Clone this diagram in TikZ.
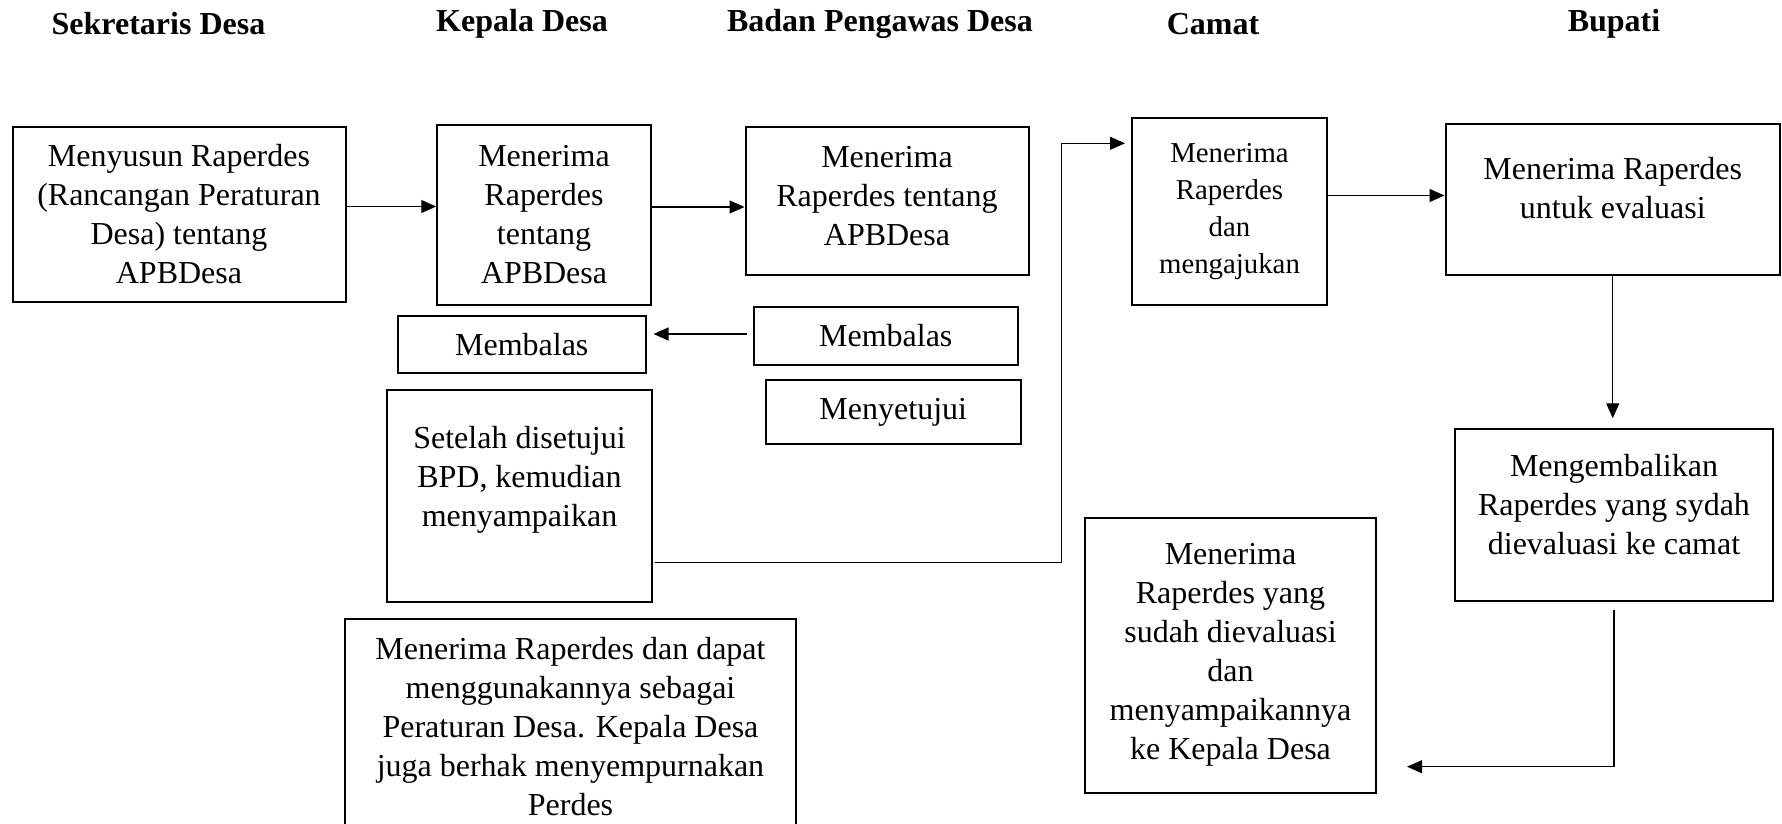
\documentclass[tikz,border=0pt]{standalone}
\usepackage{fontspec}
\setmainfont{Liberation Serif}
\usetikzlibrary{arrows.meta}
\tikzset{
  box/.style={draw, line width=1pt, align=center, inner sep=2pt, font=\fontsize{16}{19.5}\selectfont},
  judul/.style={font=\fontsize{16}{19.5}\selectfont\bfseries},
  arr/.style={-{Triangle[length=7.5pt,width=6.5pt]}, line width=0.6pt},
}
\begin{document}
\begin{tikzpicture}[x=0.5pt,y=-0.5pt]
\useasboundingbox (0,0) rectangle (1782,824);
\clip (0,0) rectangle (1782,824);
% judul kolom
\node[judul] (hSekdes) at (158.5,24) {Sekretaris Desa};
\node[judul] (hKades) at (522,24) {Kepala Desa};
\node[judul] (hBpd) at (880,24) {Badan Pengawas Desa};
\node[judul] (hCamat) at (1213,24) {Camat};
\node[judul] (hBupati) at (1614,24) {Bupati};
% kotak
\node[box, minimum width=166.5pt, minimum height=87.5pt] (sekdes) at (179,214.5) {Menyusun Raperdes\\
                                        (Rancangan Peraturan\\
                                        Desa) tentang\\
                                        APBDesa};
\node[box, minimum width=106.75pt, minimum height=90pt] (kadesTerima) at (544,215) {Menerima\\
                                        Raperdes\\
                                        tentang\\
                                        APBDesa};
\node[box, minimum width=141.5pt, minimum height=74pt] (bpdTerima) at (887,201) {Menerima\\
                                        Raperdes tentang\\
                                        APBDesa\\[-14pt]
                                        \mbox{}};
\node[box, font=\fontsize{14.4}{18.5}\selectfont, minimum width=97.5pt, minimum height=93.5pt] (camatTerima) at (1229.5,211.5) {Menerima\\
                                        Raperdes\\
                                        dan\\
                                        mengajukan};
\node[box, minimum width=167.25pt, minimum height=75.5pt] (bupatiTerima) at (1612.75,199.5) {Menerima Raperdes\\
                                        untuk evaluasi\\[-8pt]
                                        \mbox{}};
\node[box, minimum width=123.75pt, minimum height=28.5pt] (kadesBalas) at (521.75,344.5) {Membalas};
\node[box, minimum width=132.25pt, minimum height=29pt] (bpdBalas) at (885.75,336) {Membalas};
\node[box, minimum width=127.25pt, minimum height=32pt] (bpdSetuju) at (893.25,412) {Menyetujui};
\node[box, minimum width=132.75pt, minimum height=106pt] (kadesSampai) at (519.5,496) {Setelah disetujui\\
                                        BPD, kemudian\\
                                        menyampaikan\\
                                        \mbox{}};
\node[box, anchor=north, minimum width=225.5pt, minimum height=107.5pt] (kadesPerdes) at (570.5,617.7) {Menerima Raperdes dan dapat\\
                                        menggunakannya sebagai\\
                                        Peraturan Desa. Kepala Desa\\
                                        juga berhak menyempurnakan\\
                                        Perdes};
\node[box, minimum width=145.5pt, minimum height=137.5pt] (camatKembali) at (1230.5,655) {Menerima\\
                                        Raperdes yang\\
                                        sudah dievaluasi\\
                                        dan\\
                                        menyampaikannya\\
                                        ke Kepala Desa};
\node[box, minimum width=158.85pt, minimum height=85.7pt] (bupatiKembali) at (1614,515) {Mengembalikan\\
                                        Raperdes yang sydah\\
                                        dievaluasi ke camat\\[-9pt]
                                        \mbox{}};
% panah
\coordinate (naik) at (1061.7,143.3);
\coordinate (kembali) at (1407,766.7);
\draw[arr] ([yshift=4pt]sekdes.east) -- ([yshift=4pt]sekdes.east -| kadesTerima.west);
\draw[arr] ([yshift=4pt]kadesTerima.east) -- ([yshift=4pt]kadesTerima.east -| bpdTerima.west);
\draw[arr] ([yshift=8pt]camatTerima.east) -- ([yshift=8pt]camatTerima.east -| bupatiTerima.west);
\draw[arr, shorten <=3pt, shorten >=3.5pt] ([yshift=1pt]bpdBalas.west) -- ([yshift=1pt]bpdBalas.west -| kadesBalas.east);
\draw[arr, line width=0.5pt, shorten >=3pt] ([xshift=1pt,yshift=-33pt]kadesSampai.east) -| (naik) -- (camatTerima.west |- naik);
\draw[arr, line width=0.5pt, shorten >=5pt] (bupatiTerima.south) -- (bupatiTerima.south |- bupatiKembali.north);
\draw[arr, shorten <=4pt] (bupatiKembali.south) |- (kembali);
\end{tikzpicture}
\end{document}
